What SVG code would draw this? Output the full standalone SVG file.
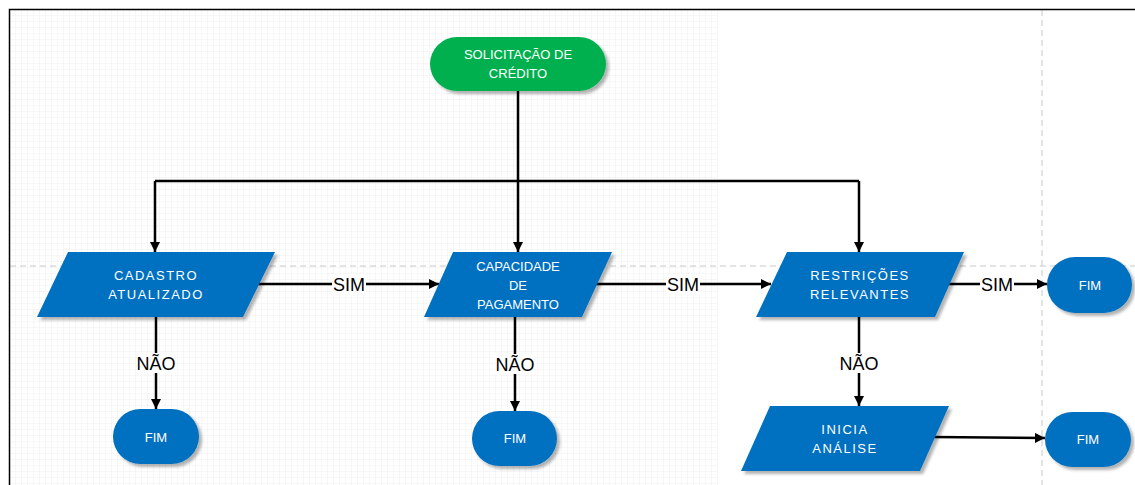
<svg xmlns="http://www.w3.org/2000/svg" width="1135" height="485" viewBox="0 0 1135 485">
<defs>
<pattern id="grid" width="6" height="6" patternUnits="userSpaceOnUse" x="10" y="10">
<path d="M6 0V6M0 6H6" fill="none" stroke="#efefef" stroke-width="1"/>
</pattern>
<filter id="sh" x="-10%" y="-10%" width="130%" height="140%">
<feDropShadow dx="3" dy="3" stdDeviation="1.5" flood-color="#000" flood-opacity="0.3"/>
</filter>
<marker id="arr" viewBox="0 0 10 10" refX="10" refY="5" markerWidth="10" markerHeight="10" markerUnits="userSpaceOnUse" orient="auto">
<path d="M0 0L10 5L0 10z" fill="#000"/>
</marker>
<style>
.blue{fill:#0070C0;filter:url(#sh)}
.green{fill:#00B050;filter:url(#sh)}
.nt{font-family:"Liberation Sans",Arial,sans-serif;font-size:13px;fill:#fff;text-anchor:middle}
.sp{letter-spacing:1.5px}
.ln{fill:none;stroke:#000;stroke-width:2.5}
.lb{font-family:"Liberation Sans",Arial,sans-serif;font-size:18px;fill:#000;text-anchor:middle}
</style>
</defs>
<rect width="1135" height="485" fill="#fff"/>
<rect x="10" y="10" width="708" height="475" fill="url(#grid)"/>
<line x1="10" y1="266" x2="1135" y2="266" stroke="#c8c8c8" stroke-dasharray="6,4"/>
<line x1="1042" y1="10" x2="1042" y2="485" stroke="#c8c8c8" stroke-dasharray="6,4"/>
<path d="M9.5 485V9.5H1135" fill="none" stroke="#000" stroke-width="1.5"/>

<g id="connectors">
<path class="ln" d="M518 91V181"/>
<path class="ln" d="M155 181H859"/>
<path class="ln" d="M155 181V252" marker-end="url(#arr)"/>
<path class="ln" d="M518 181V252" marker-end="url(#arr)"/>
<path class="ln" d="M859 181V252" marker-end="url(#arr)"/>
<path class="ln" d="M258 284H439" marker-end="url(#arr)"/>
<path class="ln" d="M596 284H771" marker-end="url(#arr)"/>
<path class="ln" d="M947 284H1047" marker-end="url(#arr)"/>
<path class="ln" d="M156 317V409" marker-end="url(#arr)"/>
<path class="ln" d="M515 317V411" marker-end="url(#arr)"/>
<path class="ln" d="M859 317V406" marker-end="url(#arr)"/>
<path class="ln" d="M933 437L1045 438" marker-end="url(#arr)"/>
<rect x="332" y="274" width="34" height="20" fill="#fff"/>
<text class="lb" x="349" y="291">SIM</text>
<rect x="666" y="274" width="34" height="20" fill="#fff"/>
<text class="lb" x="683" y="291">SIM</text>
<rect x="980" y="274" width="34" height="20" fill="#fff"/>
<text class="lb" x="997" y="291">SIM</text>
<rect x="136" y="353" width="40" height="20" fill="#fff"/>
<text class="lb" x="156" y="370">NÃO</text>
<rect x="495" y="354" width="40" height="20" fill="#fff"/>
<text class="lb" x="515" y="371">NÃO</text>
<rect x="839" y="353" width="40" height="20" fill="#fff"/>
<text class="lb" x="859" y="370">NÃO</text>
</g>

<g id="start">
<rect class="green" x="430" y="37" width="176" height="54" rx="27"/>
<text class="nt" x="518" y="59">SOLICITAÇÃO DE</text>
<text class="nt" x="518" y="78">CRÉDITO</text>
</g>

<g id="cadastro">
<polygon class="blue" points="68,252 275,252 243,317 37,317"/>
<text class="nt sp" x="156" y="280">CADASTRO</text>
<text class="nt sp" x="156" y="299">ATUALIZADO</text>
</g>

<g id="capacidade">
<polygon class="blue" points="453,252 612,252 582,317 424,317"/>
<text class="nt" x="518" y="271">CAPACIDADE</text>
<text class="nt" x="518" y="290">DE</text>
<text class="nt" x="518" y="309">PAGAMENTO</text>
</g>

<g id="restricoes">
<polygon class="blue" points="787,252 964,252 935,317 756,317"/>
<text class="nt sp" x="860" y="280">RESTRIÇÕES</text>
<text class="nt sp" x="860" y="299">RELEVANTES</text>
</g>

<g id="inicia">
<polygon class="blue" points="770,406 949,406 920,471 741,471"/>
<text class="nt sp" x="845" y="434">INICIA</text>
<text class="nt sp" x="845" y="453">ANÁLISE</text>
</g>

<g id="fim1">
<rect class="blue" x="113" y="409" width="86" height="55" rx="27.5"/>
<text class="nt" x="156" y="442">FIM</text>
</g>
<g id="fim2">
<rect class="blue" x="472" y="411" width="85" height="55" rx="27.5"/>
<text class="nt" x="515" y="443">FIM</text>
</g>
<g id="fim3">
<rect class="blue" x="1047" y="257" width="85" height="56" rx="28"/>
<text class="nt" x="1090" y="290">FIM</text>
</g>
<g id="fim4">
<rect class="blue" x="1045" y="412" width="86" height="55" rx="27.5"/>
<text class="nt" x="1088" y="444">FIM</text>
</g>
</svg>
